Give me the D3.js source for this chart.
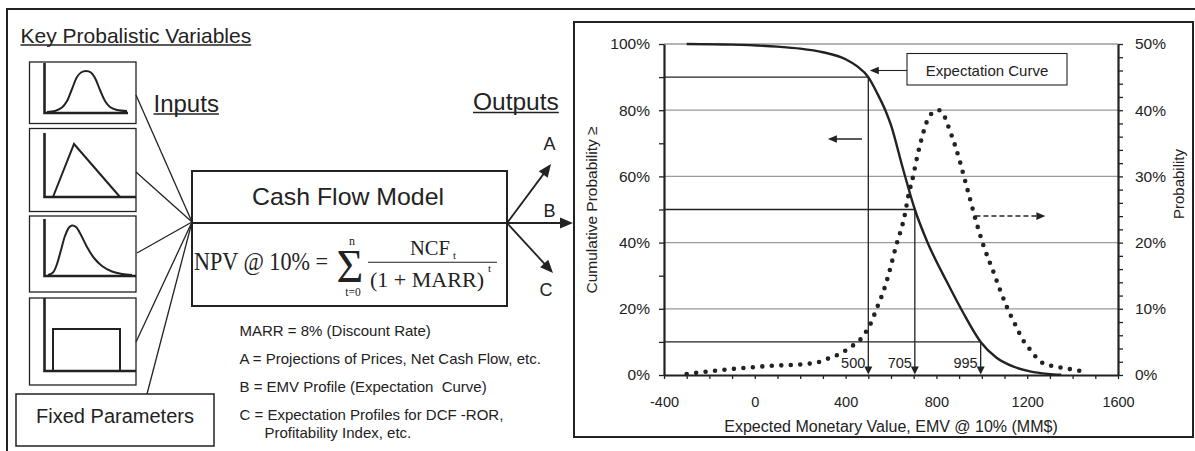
<!DOCTYPE html>
<html><head><meta charset="utf-8">
<script src="https://cdn.jsdelivr.net/npm/d3@7"></script>
<style>
html,body{margin:0;padding:0;background:#fff;}
svg{display:block;}
text{font-family:"Liberation Sans",Arial,sans-serif;fill:#222;white-space:pre;}
.serif{font-family:"Liberation Serif","Times New Roman",serif;}
</style></head><body>
<svg id="c" width="1195" height="451"></svg>
<script>
// ---- data ----
const emvTicks = [-400, 0, 400, 800, 1200, 1600];
const cumTicks = [0, 20, 40, 60, 80, 100];
const probTicks = [0, 10, 20, 30, 40, 50];
const cumEMV  = [-300, -100, 100, 200, 300, 400, 450, 500, 540, 575, 600, 650, 705, 760, 845, 918, 995, 1065, 1140, 1212, 1290, 1350];
const cumProb = [100, 99.8, 99.2, 98.6, 97.5, 95.4, 93.3, 90, 85, 80, 75.5, 63, 50, 40.2, 28.3, 18.8, 10, 5.2, 2.5, 1.1, 0.35, 0.1];
const pdfEMV  = [-300, -175, -50, 77, 202, 286, 324, 362, 400, 434, 466, 493, 515, 534, 551, 573, 588, 620, 662, 676, 698, 713, 735, 757, 779, 811, 838, 852, 867, 882, 904, 926, 948, 970, 1007, 1051, 1080, 1110, 1146, 1183, 1209, 1234, 1264, 1304, 1345, 1386, 1429, 1470];
const pdfProb = [0.15, 0.65, 1.06, 1.4, 1.6, 2.0, 2.5, 3.0, 3.7, 4.5, 5.4, 6.7, 8.1, 9.8, 11.2, 13.3, 15.0, 19.2, 24.4, 27.0, 30.1, 32.6, 35.7, 38.2, 39.5, 40.0, 38.9, 37.6, 36.2, 34.7, 32.2, 29.4, 26.6, 23.8, 19.6, 15.6, 12.9, 10.3, 7.7, 5.2, 4.0, 2.9, 1.9, 1.4, 1.15, 0.9, 0.65, 0.4];
const markerEMV = [500, 705, 995];
const markerCum = [90, 50, 10];
const notes = ["MARR = 8% (Discount Rate)", "A = Projections of Prices, Net Cash Flow, etc.", "B = EMV Profile (Expectation  Curve)", "C = Expectation Profiles for DCF -ROR,", "      Profitability Index, etc."];

const ink = '#222';
const svg = d3.select('#c');

// ---- helpers ----
function arrowHead(g, tx, ty, ang, len, hw, fill) {
  const c = Math.cos(ang), s = Math.sin(ang);
  const bx = tx - c * len, by = ty - s * len;
  const pts = [[tx, ty], [bx - s * hw, by + c * hw], [bx + s * hw, by - c * hw]];
  g.append('path').attr('d', 'M' + pts.map(p => p.join(',')).join('L') + 'Z').attr('fill', fill || ink);
}
function line(g, x1, y1, x2, y2, w, col) {
  return g.append('line').attr('x1', x1).attr('y1', y1).attr('x2', x2).attr('y2', y2)
    .attr('stroke', col || ink).attr('stroke-width', w || 1.3);
}
function txt(g, x, y, s, size, anchor) {
  return g.append('text').attr('x', x).attr('y', y).attr('font-size', size).attr('text-anchor', anchor || 'start').text(s);
}
function underline(g, t, dy) {
  const b = t.node().getBBox();
  const y = +t.attr('y') + dy;
  line(g, b.x, y, b.x + b.width, y, 1.3);
}

// ---- outer frame ----
svg.append('path').attr('d', 'M7,451V9H1195').attr('fill', 'none').attr('stroke', ink).attr('stroke-width', 2);

// ---- left panel ----
const L = svg.append('g');
underline(L, txt(L, 20.5, 42.5, 'Key Probalistic Variables', 21), 2.5);

const boxes = [[29.5, 62, 106.5, 61.5], [29.5, 128.5, 106.5, 83], [29.5, 216, 106.5, 76], [29.5, 298, 106.5, 87]];
boxes.forEach(b => L.append('rect').attr('x', b[0]).attr('y', b[1]).attr('width', b[2]).attr('height', b[3])
  .attr('fill', 'none').attr('stroke', ink).attr('stroke-width', 1.3));

const curve = d3.line().curve(d3.curveCatmullRom);
const lin = d3.line();
function icon(axTop, axBot, axRight, pts, smooth) {
  L.append('path').attr('d', `M44.5,${axTop}V${axBot}H${axRight}`).attr('fill', 'none').attr('stroke', ink).attr('stroke-width', 2.6);
  L.append('path').attr('d', (smooth ? curve : lin)(pts)).attr('fill', 'none').attr('stroke', ink).attr('stroke-width', 2);
}
icon(63, 113, 128, [[47,112],[55,111],[62,107.5],[67,101],[72,89],[77,77],[81,72.5],[86,71],[91,72.5],[95,78],[100,90],[105,101],[110,107],[117,110],[127,111]], true);
icon(133, 197, 136, [[53,197],[74,144],[120,197]], false);
icon(219, 276, 136, [[48,275],[53,272.5],[57,264],[61,250],[65,236],[69,227.5],[72,225.5],[76,227],[81,235],[87,247],[94,258],[102,266],[112,271.5],[122,274],[132,275]], true);
icon(298, 371, 136, [[53,371],[53,329],[120,329],[120,371]], false);

const P = [192, 222];
[[136, 95], [136, 172], [137, 253], [136, 342], [147, 394]].forEach(p => line(L, p[0], p[1], P[0], P[1], 1.3));

L.append('rect').attr('x', 16).attr('y', 394).attr('width', 198).attr('height', 52).attr('fill', '#fff').attr('stroke', ink).attr('stroke-width', 1.5);
txt(L, 115, 422.5, 'Fixed Parameters', 20, 'middle');

underline(L, txt(L, 153.5, 111.5, 'Inputs', 24), 2.5);
underline(L, txt(L, 473, 110, 'Outputs', 24.5), 2.5);

// cash flow model box
L.append('rect').attr('x', 192).attr('y', 171).attr('width', 315).attr('height', 135).attr('fill', 'none').attr('stroke', ink).attr('stroke-width', 2);
line(L, 192, 223, 507, 223, 2);
txt(L, 348, 205, 'Cash Flow Model', 24, 'middle').attr('textLength', 192).attr('lengthAdjust', 'spacingAndGlyphs');

// formula
txt(L, 194, 270, 'NPV @ 10% =', 25).attr('class', 'serif').attr('textLength', 134).attr('lengthAdjust', 'spacingAndGlyphs');
txt(L, 350, 281.5, 'Σ', 46, 'middle').attr('class', 'serif');
txt(L, 352, 245, 'n', 12, 'middle').attr('class', 'serif');
txt(L, 353, 295.5, 't=0', 11.5, 'middle').attr('class', 'serif');
txt(L, 410, 255, 'NCF', 21).attr('class', 'serif').attr('textLength', 40).attr('lengthAdjust', 'spacingAndGlyphs');
txt(L, 453, 258.5, 't', 11).attr('class', 'serif');
line(L, 368, 262.3, 497, 262.3, 1.1);
txt(L, 370, 286.5, '(1 + MARR)', 21.5).attr('class', 'serif').attr('textLength', 114).attr('lengthAdjust', 'spacingAndGlyphs');
txt(L, 488, 272, 't', 11).attr('class', 'serif');

// outputs arrows
const O = [507, 223];
[[551, 164], [573, 223], [553, 273]].forEach(t => {
  const ang = Math.atan2(t[1] - O[1], t[0] - O[0]);
  line(L, O[0], O[1], t[0] - Math.cos(ang) * 8, t[1] - Math.sin(ang) * 8, 1.8);
  arrowHead(L, t[0], t[1], ang, 13, 5.5);
});
txt(L, 549.5, 150, 'A', 18, 'middle');
txt(L, 549.5, 216.5, 'B', 18, 'middle');
txt(L, 546, 295.5, 'C', 18, 'middle');

// notes
const noteY = [336, 364, 391.5, 419.5, 438];
notes.forEach((s, i) => txt(L, 239.5, noteY[i], s, 15));

// ---- right panel ----
svg.append('rect').attr('x', 574).attr('y', 22).attr('width', 619).attr('height', 415).attr('fill', 'none').attr('stroke', ink).attr('stroke-width', 2);

const x = d3.scaleLinear().domain([-400, 1600]).range([664, 1118]);
const yL = d3.scaleLinear().domain([0, 100]).range([375, 44]);
const yR = d3.scaleLinear().domain([0, 50]).range([375, 44]);
const C = svg.append('g');

// gridlines
C.selectAll('.grid').data(cumTicks.filter(d => d > 0)).join('line')
  .attr('x1', x(-400)).attr('x2', x(1600)).attr('y1', d => yL(d)).attr('y2', d => yL(d))
  .attr('stroke', '#9a9a9a').attr('stroke-width', 1.3);

// axes
function styleAxis(g, fs) {
  g.select('.domain').attr('stroke', ink).attr('stroke-width', 2.2);
  g.selectAll('.tick line').attr('stroke', ink).attr('stroke-width', 1.3);
  g.selectAll('.tick text').attr('font-size', fs).attr('font-family', '"Liberation Sans",Arial,sans-serif').attr('fill', ink);
}
const gx = C.append('g').attr('transform', `translate(0,${yL(0)})`)
  .call(d3.axisBottom(x).tickValues(d3.range(-400, 1601, 100)).tickSize(4).tickSizeOuter(0).tickPadding(8)
    .tickFormat(d => emvTicks.includes(d) ? String(d) : ''));
styleAxis(gx, 14.5);
gx.selectAll('.tick text').attr('dy', '1.4em');
const gl = C.append('g').attr('transform', `translate(${x(-400)},0)`)
  .call(d3.axisLeft(yL).tickValues(d3.range(0, 101, 10)).tickSize(5).tickSizeOuter(0).tickPadding(9)
    .tickFormat(d => cumTicks.includes(d) ? d + '%' : ''));
styleAxis(gl, 15.5);
const gr = C.append('g').attr('transform', `translate(${x(1600)},0)`)
  .call(d3.axisRight(yR).tickValues(d3.range(0, 51, 2)).tickSize(5).tickSizeOuter(0).tickPadding(12)
    .tickFormat(d => probTicks.includes(d) ? d + '%' : ''));
styleAxis(gr, 15.5);

// axis titles
txt(C, 891, 431.5, 'Expected Monetary Value, EMV @ 10% (MM$)', 16, 'middle');
txt(C, 0, 0, 'Cumulative Probability ≥', 15.5, 'middle').attr('transform', 'translate(597,210) rotate(-90)');
txt(C, 0, 0, 'Probability', 15, 'middle').attr('transform', 'translate(1184,184) rotate(-90)');

// marker lines
markerEMV.forEach((v, i) => {
  const yy = yL(markerCum[i]);
  line(C, x(-400), yy, x(v), yy, 1.3);
  line(C, x(v), yy, x(v), yL(0) - 6, 1.3);
  arrowHead(C, x(v), yL(0) - 0.5, Math.PI / 2, 8, 4);
  txt(C, x(v) - 3, 368, String(v), 14.5, 'end');
});

// cumulative curve
const cumData = cumEMV.map((v, i) => [v, cumProb[i]]);
C.append('path').datum(cumData)
  .attr('d', d3.line().x(d => x(d[0])).y(d => yL(d[1])).curve(d3.curveMonotoneX))
  .attr('fill', 'none').attr('stroke', ink).attr('stroke-width', 2.4);

// probability (dotted) curve
const pdfData = pdfEMV.map((v, i) => [v, pdfProb[i]]);
C.append('path').datum(pdfData)
  .attr('d', d3.line().x(d => x(d[0])).y(d => yR(d[1])).curve(d3.curveMonotoneX))
  .attr('fill', 'none').attr('stroke', ink).attr('stroke-width', 4.6)
  .attr('stroke-linecap', 'round').attr('stroke-dasharray', '0 9.5');

// direction arrows
const ya = yL(71.3);
line(C, x(472), ya, x(330), ya, 1.3);
arrowHead(C, x(322), ya, Math.PI, 9, 3.8);
const yd = yR(24);
line(C, x(972), yd, x(1262), yd, 1.5).attr('stroke-dasharray', '5 3');
arrowHead(C, x(1280), yd, 0, 9, 3.8);

// expectation curve callout
C.append('rect').attr('x', 907).attr('y', 53.5).attr('width', 160).attr('height', 31.5).attr('fill', '#fff').attr('stroke', ink).attr('stroke-width', 1.1);
txt(C, 987, 75.5, 'Expectation Curve', 15, 'middle');
const yc = 70.5;
line(C, 907, yc, x(505) + 6, yc, 1.1);
arrowHead(C, x(500) + 1.5, yc, Math.PI, 9, 3.8);
</script>
</body></html>
